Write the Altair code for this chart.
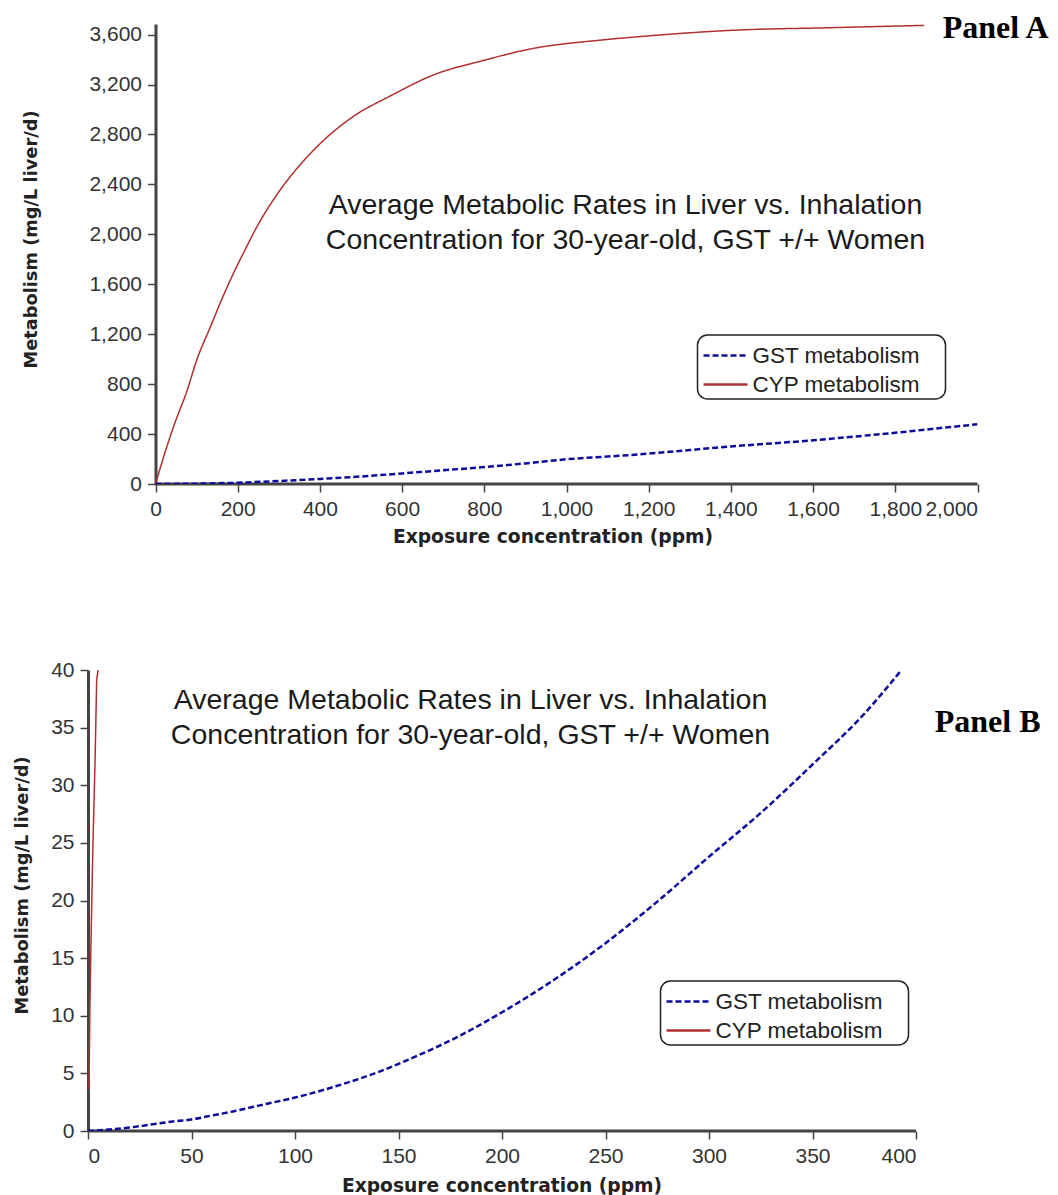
import altair as alt
import pandas as pd

# ---------------- data ----------------
# Panel A
gst_a_x = [0, 100, 200, 300, 400, 500, 600, 700, 800, 900, 1000, 1100, 1200, 1300, 1400, 1500, 1600, 1700, 1800, 1900, 2000]
gst_a_y = [0, 3, 10, 24, 41, 60, 85, 110, 136, 165, 198, 220, 243, 272, 301, 325, 350, 380, 410, 445, 478]
cyp_a_x = [0, 20, 50, 75, 100, 135, 160, 190, 220, 250, 300, 350, 400, 475, 575, 675, 800, 920, 1080, 1200, 1400, 1650, 1870]
cyp_a_y = [0, 220, 515, 730, 990, 1270, 1470, 1690, 1890, 2080, 2340, 2550, 2725, 2930, 3115, 3275, 3395, 3490, 3555, 3590, 3634, 3656, 3674]

# Panel B
gst_b_x = [0, 10, 20, 30, 40, 50, 60, 70, 80, 90, 100, 120, 140, 160, 180, 200, 225, 250, 275, 300, 325, 350, 375, 393]
gst_b_y = [0, 0.12, 0.3, 0.55, 0.8, 1.0, 1.35, 1.7, 2.1, 2.5, 2.9, 3.9, 5.1, 6.6, 8.3, 10.3, 13.1, 16.3, 19.9, 23.8, 27.6, 31.8, 36.2, 40.0]
cyp_b_x = [0.5, 0.9, 1.6, 2.4, 3.4, 4.2, 4.9]
cyp_b_y = [3.6, 10.7, 17.8, 25.0, 32.0, 39.2, 40.0]

series = ["GST metabolism", "CYP metabolism"]
colors = ["#0c0c9c", "#b03030"]
dashes = [[6, 3], [1, 0]]

a_xticks = list(range(0, 2001, 200))
a_yticks = list(range(0, 3601, 400))
b_xticks = list(range(0, 401, 50))
b_yticks = list(range(0, 41, 5))

inner_title = ["Average Metabolic Rates in Liver vs. Inhalation",
               "Concentration for 30-year-old, GST +/+ Women"]
x_title = "Exposure concentration (ppm)"
y_title = "Metabolism (mg/L liver/d)"

AXC = "#444444"


def panel(gx, gy, cx, cy, xdom, xaxis_span, ydom, xt, yt, W, H, yoff,
          ytx, yty, xtx, xty, legx, legy, tx, ty, label, lx, ly, dx, dy1, dy2,
          g_interp, c_interp):
    gdf = pd.DataFrame({"x": gx, "y": gy, "s": series[0], "o": list(range(len(gx)))})
    cdf = pd.DataFrame({"x": cx, "y": cy, "s": series[1], "o": list(range(len(cx)))})
    one = pd.DataFrame({"d": [0]})

    xenc = alt.X("x:Q", scale=alt.Scale(domain=xdom, nice=False, zero=False),
                 axis=alt.Axis(values=xt, format=",d", title=x_title, domain=False,
                               titleX=xtx, titleY=xty, titleAlign="center",
                               titleBaseline="middle", titleAngle=0, titleFontSize=18.7))
    yenc = alt.Y("y:Q", scale=alt.Scale(domain=ydom, nice=False, zero=False),
                 axis=alt.Axis(values=yt, format=",d", title=y_title, offset=yoff,
                               titleX=ytx, titleY=yty, titleAlign="center",
                               titleBaseline="middle", titleAngle=270, titleFontSize=17.8))
    # the (white, hence invisible) legend title placed on the right only widens the box
    leg = dict(title="\u2014", titleOrient="right", titlePadding=14, titleFontSize=9,
               titleColor="white", orient="none", legendX=legx, legendY=legy)
    cenc = alt.Color("s:N", scale=alt.Scale(domain=series, range=colors),
                     legend=alt.Legend(**leg))
    denc = alt.StrokeDash("s:N", scale=alt.Scale(domain=series, range=dashes),
                          legend=alt.Legend(**leg))

    # x-axis baseline drawn through the x scale (from 0 to the axis end)
    xline = alt.Chart(one).mark_rule(color=AXC, strokeWidth=3).encode(
        x=alt.datum(xaxis_span[0]), x2=alt.datum(xaxis_span[1]), y=alt.datum(0))

    g_line = alt.Chart(gdf).mark_line(strokeWidth=2.5, clip=True, strokeCap="butt",
                                      interpolate=g_interp).encode(
        x=xenc, y=yenc, color=cenc, strokeDash=denc, order="o:Q")
    c_line = alt.Chart(cdf).mark_line(strokeWidth=1.5, clip=True,
                                      interpolate=c_interp).encode(
        x=xenc, y=yenc, color=cenc, strokeDash=denc, order="o:Q")

    dummy = alt.Chart(one).mark_rule(opacity=0).encode(
        x=alt.value(dx), y=alt.value(dy1), y2=alt.value(dy2))

    ttl = alt.Chart(one).mark_text(font="Liberation Sans", fontSize=28.5, lineHeight=35,
                                   align="center", baseline="middle", color="#1a1a1a").encode(
        x=alt.value(tx), y=alt.value(ty), text=alt.value(inner_title))

    lab = alt.Chart(one).mark_text(font="Liberation Serif", fontSize=32, fontWeight="bold",
                                   align="right", baseline="middle", color="black").encode(
        x=alt.value(lx), y=alt.value(ly), text=alt.value(label))

    return alt.layer(xline, c_line, g_line, dummy, ttl, lab).properties(width=W, height=H)


# Panel A: plot area widened to the left (negative part of x domain is empty)
# so that its y axis can sit 67.5 px to the right of panel B's.
shift = 67.5
a_w = 822
a_left = -2000 * shift / a_w
panel_a = panel(gst_a_x, gst_a_y, cyp_a_x, cyp_a_y, [a_left, 2000], [0, 2000], [0, 3685],
                a_xticks, a_yticks, a_w + shift, 460, -shift,
                -124, 215, 397 + shift, 52, 542 + shift, 311, 470 + shift, 181,
                "Panel A", 893 + shift, 4, -77.5, -14, 556, "monotone", "monotone")

panel_b = panel(gst_b_x, gst_b_y, cyp_b_x, cyp_b_y, [0, 400], [0, 400], [0, 40],
                b_xticks, b_yticks, 828, 461, 0,
                -65.5, 215, 413.5, 54, 572.5, 311, 382.5, 30,
                "Panel B", 952.5, 52, -77.5, -70, 400, "monotone", "linear")

chart = alt.vconcat(panel_a, panel_b, spacing=20).resolve_scale(
    color="independent", strokeDash="independent"
).resolve_legend(
    color="independent", strokeDash="independent"
).properties(
    padding={"left": 2, "top": 2, "right": 0, "bottom": 0}
).configure_view(
    stroke=None
).configure_axis(
    grid=False,
    labelFont="Liberation Sans", labelFontSize=21, labelColor="#333333",
    titleFont="DejaVu Sans", titleFontSize=18.5, titleFontWeight="bold", titleColor="#222222",
    domainColor=AXC, domainWidth=3, tickColor=AXC, tickWidth=1.5, tickSize=8,
    labelPadding=6
).configure_legend(
    symbolType="M-1.39,0H1.39", symbolSize=1000, symbolStrokeWidth=2.5, symbolOffset=7.5,
    labelFont="Liberation Sans", labelFontSize=22.5, labelColor="#222222", labelLimit=400,
    strokeColor="#222222", strokeWidth=1.5, cornerRadius=10, fillColor="white",
    padding=3, rowPadding=-1, labelOffset=9.4
)

chart.save("out.html", embed_options={"renderer": "svg", "actions": False})
